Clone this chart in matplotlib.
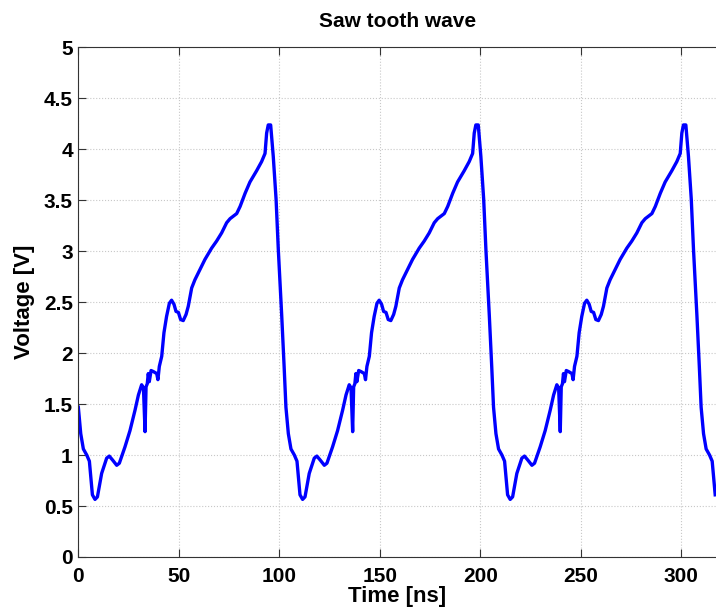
import numpy as np
import matplotlib.pyplot as plt

# one cycle of the waveform (time in ns, voltage in V)
cycle_t = [0.0, 1.2, 2.5, 4.2, 5.5, 6.3, 7.0, 8.3, 9.5, 11.6, 14.1, 15.4, 17.1,
           19.1, 20.4, 23.2, 25.7, 28.2, 29.9, 31.5, 32.4, 33.2, 33.7, 34.3,
           34.8, 35.3, 36.2, 37.3, 39.0, 39.6, 40.3, 41.5, 42.6, 43.9, 45.3,
           46.4, 47.6, 48.6, 49.8, 50.9, 52.2, 53.6, 54.7, 56.4, 58.0, 60.5,
           63.0, 66.3, 68.8, 71.3, 73.8, 75.5, 78.8, 80.5, 83.0, 85.4, 88.7,
           91.2, 92.9, 93.7, 94.5, 95.7, 97.0, 98.4, 99.5, 101.2, 102.4]
cycle_v = [1.47, 1.21, 1.06, 1.00, 0.94, 0.76, 0.61, 0.565, 0.59, 0.82, 0.97,
           0.99, 0.95, 0.90, 0.92, 1.08, 1.24, 1.44, 1.59, 1.69, 1.66, 1.23,
           1.67, 1.70, 1.80, 1.72, 1.83, 1.82, 1.80, 1.74, 1.87, 1.97, 2.20,
           2.36, 2.49, 2.52, 2.48, 2.41, 2.40, 2.33, 2.32, 2.38, 2.46, 2.64,
           2.72, 2.82, 2.92, 3.03, 3.10, 3.18, 3.28, 3.32, 3.37, 3.44, 3.57,
           3.68, 3.79, 3.88, 3.96, 4.16, 4.24, 4.24, 3.93, 3.51, 3.02, 2.37,
           1.87]
period = 103.3
t_end = 317.5

# the trace repeats the same cycle
t = np.concatenate([np.array(cycle_t) + k * period for k in range(4)])
v = np.tile(cycle_v, 4)
keep = t <= t_end
t, v = t[keep], v[keep]

plt.rcParams['font.family'] = ['Liberation Sans', 'DejaVu Sans']
plt.rcParams['font.weight'] = 'bold'

fig = plt.figure(figsize=(7.16, 6.12), dpi=100)
ax = fig.add_axes([0.1094, 0.0899, 0.8906, 0.8325])
ax.plot(t, v, color='#0000ff', linewidth=2.4)

ax.set_xlim(0, 317.3)
ax.set_ylim(0, 5)
ax.set_xticks([0, 50, 100, 150, 200, 250, 300])
ax.set_yticks([0, 0.5, 1, 1.5, 2, 2.5, 3, 3.5, 4, 4.5, 5])
ax.set_yticklabels(['0', '0.5', '1', '1.5', '2', '2.5', '3', '3.5', '4', '4.5', '5'])
ax.grid(True, linestyle=':', color='#c8c8c8', linewidth=0.8)
ax.tick_params(direction='in', top=True, right=False, labelsize=15, length=6,
               width=0.8, color='#333333')
ax.tick_params(axis='x', pad=7)
ax.tick_params(axis='y', pad=4)
for lbl in ax.get_xticklabels() + ax.get_yticklabels():
    lbl.set_fontweight('bold')
ax.spines['right'].set_visible(False)
for s in ['left', 'top', 'bottom']:
    ax.spines[s].set_color('#333333')
    ax.spines[s].set_linewidth(0.8)

ax.set_title('Saw tooth wave', fontsize=15, fontweight='bold', pad=15)
ax.set_xlabel('Time [ns]', fontsize=16, fontweight='bold', labelpad=0)
ax.set_ylabel('Voltage [V]', fontsize=16, fontweight='bold', labelpad=6)

fig.savefig('out.png', dpi=100)
